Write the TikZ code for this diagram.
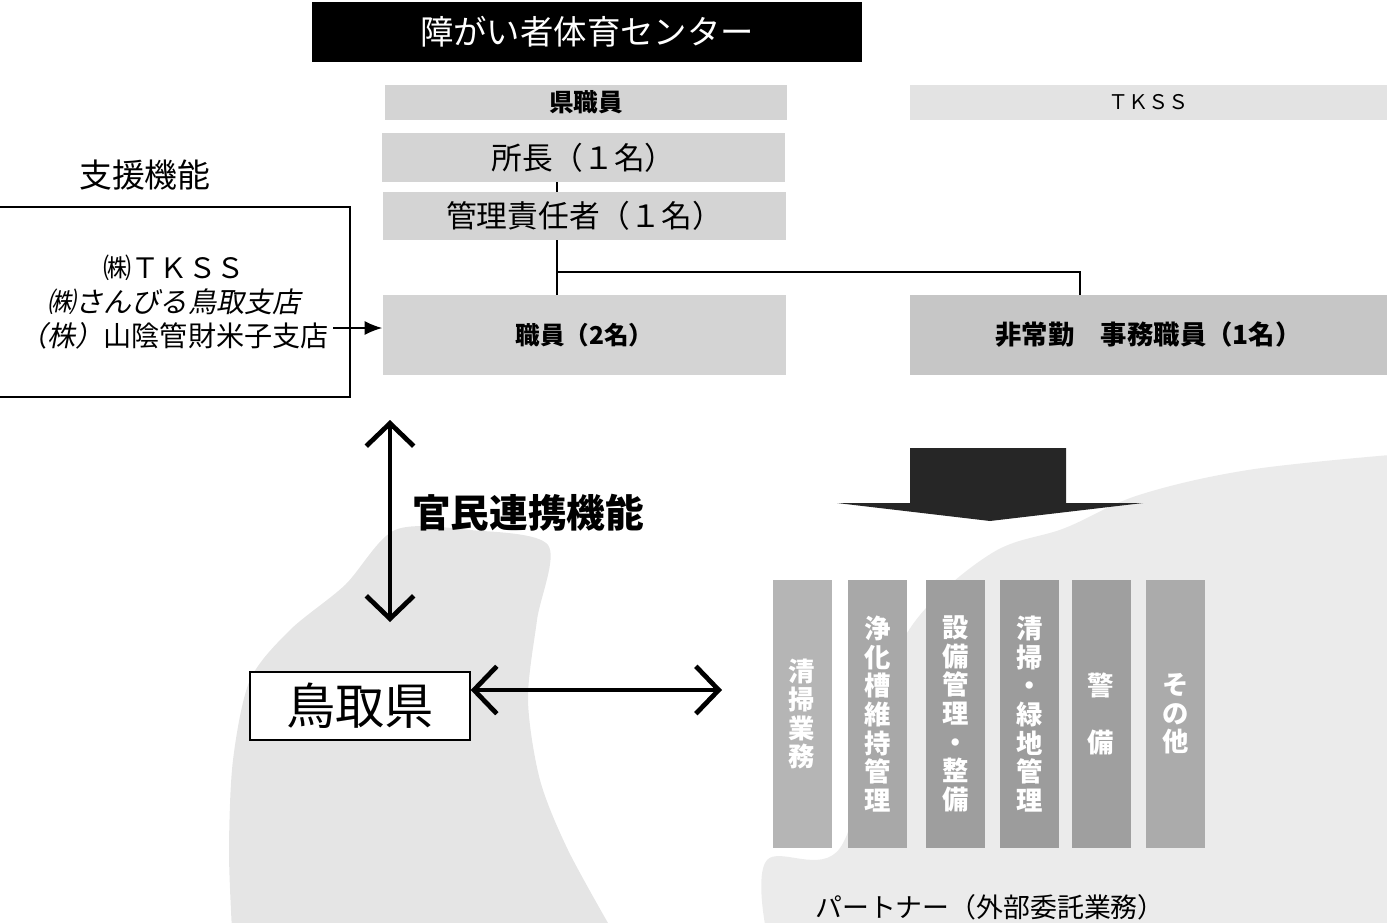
\documentclass[tikz,border=0pt]{standalone}
\usepackage{fontspec}
\setmainfont{Noto Sans CJK JP}
\newfontfamily\slantfont{Noto Sans CJK JP}[FakeSlant=0.2]
\usetikzlibrary{positioning}
\usetikzlibrary{arrows.meta}

\begin{document}
\begin{tikzpicture}[x=0.02cm, y=-0.02cm, align=center, inner sep=0pt,
            >={Latex[length=10pt,width=8pt]}]

            \tikzstyle{header} = [rectangle, fill=black, text=white,
                minimum width=11cm, minimum height=1.2cm,
                font=\fontsize{19pt}{22pt}\selectfont]
            \tikzstyle{band} = [rectangle, fill=gray!34]
            \tikzstyle{post} = [band, minimum width=8.08cm]
            \tikzstyle{plain} = [rectangle, draw=black, line width=1.1pt, fill=white]
            \tikzstyle{duty} = [rectangle, text=white, minimum width=1.18cm,
                minimum height=5.36cm, font=\bfseries\fontsize{15pt}{16.3pt}\selectfont]
            \tikzstyle{freetext} = []
            \tikzstyle{link} = [draw, line width=1.1pt]
            \tikzstyle{twoway} = [draw, line width=2.7pt, <->,
                >={Straight Barb[length=13pt,width=27pt]}]

            \useasboundingbox (0,0) rectangle (1387,923);

            % stippled backgrounds
            \fill[gray!20] plot[smooth, tension=0.5] coordinates {(232,930) (229,850)
                (233,760) (250,680) (290,630) (345,585) (395,530) (470,530) (548,545)
                (537,620) (528,700) (540,780) (568,850) (612,930)} -- cycle;
            \fill[gray!16] plot[smooth, tension=0.6] coordinates {(766,930) (767,860)
                (840,848) (880,700) (916,620) (992,553) (1065,528) (1139,495)
                (1248,470) (1390,455)} -- (1390,930) -- cycle;

            % centre
            \node[header](centre) at(587, 32) {障がい者体育センター};
            \node[band, minimum width=8.04cm, minimum height=0.7cm,
                font=\bfseries\fontsize{14pt}{16pt}\selectfont](ken) at(586, 102.5) {県職員};
            \node[band, fill=gray!22, minimum width=9.54cm, minimum height=0.7cm,
                font=\fontsize{11.5pt}{14pt}\selectfont](tkss) at(1148.5, 102.5) {ＴＫＳＳ};
            \node[post, minimum height=0.98cm,
                font=\fontsize{17.5pt}{20pt}\selectfont](chief) at(583.5, 157.5) {所長（１名）};
            \node[post, minimum height=0.96cm,
                font=\fontsize{17.5pt}{20pt}\selectfont](manager) at(584.5, 216) {管理責任者（１名）};
            \node[post, minimum height=1.6cm,
                font=\bfseries\fontsize{14pt}{16pt}\selectfont](staff) at(584.5, 335) {職員（2名）};
            \node[band, fill=gray!45, minimum width=9.54cm, minimum height=1.6cm,
                font=\bfseries\fontsize{15pt}{17pt}\selectfont](parttime) at(1148.5, 335) {非常勤　事務職員（1名）};

            \coordinate (fork) at(557, 272);
            \coordinate (drop) at(1080, 272);
            \path[link] (chief.south -| fork) -- (manager.north -| fork)
                (manager.south -| fork) -- (staff.north -| fork)
                (fork) -- (drop) -- (parttime.north -| drop)
            ;

            % support
            \node[freetext, font=\fontsize{18.7pt}{21pt}\selectfont](supportlabel) at(145, 175) {支援機能};
            \node[plain, minimum width=7.04cm, minimum height=3.8cm,
                font=\fontsize{16pt}{19.3pt}\selectfont](support) at(174, 302)
                {㈱ＴＫＳＳ\\{\slantfont ㈱さんびる鳥取支店}\\{\slantfont （株）}山陰管財米子支店};
            \coordinate (feed) at(333, 328);
            \draw[line width=0.9pt, ->] (feed) -- (staff.west |- feed);

            % prefecture
            \node[plain, line width=0.8pt, minimum width=4.4cm, minimum height=1.36cm,
                font=\fontsize{28pt}{32pt}\selectfont](tottori) at(360, 706) {鳥取県};
            \node[freetext, font=\bfseries\fontsize{22pt}{25pt}\selectfont](kanmin) at(528, 513) {官民連携機能};
            \coordinate (ptop) at(390, 420);
            \coordinate (pbot) at(390, 622);
            \coordinate (pright) at(722, 690);
            \draw[twoway] (ptop) -- (pbot);
            \draw[twoway] (tottori.east |- pright) -- (pright);

            % partners
            \fill[black!85] (910,448) -- (1066,448) -- (1066,503) -- (1143,503)
                -- (990,521) -- (837,503) -- (910,503) -- cycle;
            \node[duty, fill=gray!58](clean) at(802, 714) {清\\掃\\業\\務};
            \node[duty, fill=gray!68](septic) at(877.5, 714) {浄\\化\\槽\\維\\持\\管\\理};
            \node[duty, fill=gray!76](facility) at(955.5, 714) {設\\備\\管\\理\\・\\整\\備};
            \node[duty, fill=gray!78](green) at(1029.5, 714) {清\\掃\\・\\緑\\地\\管\\理};
            \node[duty, fill=gray!75](guard) at(1101, 714) {警\\　\\備};
            \node[duty, fill=gray!66](other) at(1175.5, 714) {そ\\の\\他};
            \node[freetext, font=\fontsize{15.3pt}{18pt}\selectfont](partner) at(990, 907) {パートナー（外部委託業務）};
       \end{tikzpicture}
\end{document}
